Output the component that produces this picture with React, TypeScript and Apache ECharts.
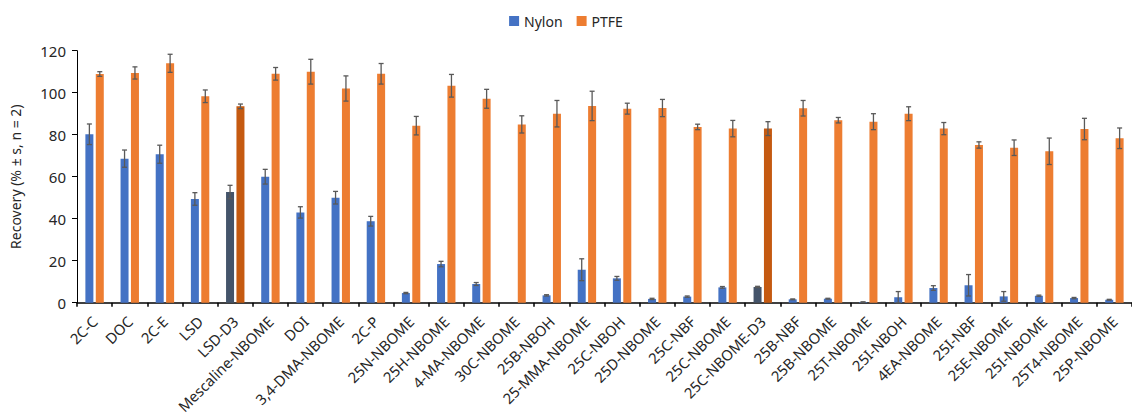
import React, { useEffect, useRef } from "react";
import * as echarts from "echarts";

const categories = [
  "2C-C", "DOC", "2C-E", "LSD", "LSD-D3", "Mescaline-NBOME", "DOI", "3,4-DMA-NBOME", "2C-P",
  "25N-NBOME", "25H-NBOME", "4-MA-NBOME", "30C-NBOME", "25B-NBOH", "25-MMA-NBOME", "25C-NBOH",
  "25D-NBOME", "25C-NBF", "25C-NBOME", "25C-NBOME-D3", "25B-NBF", "25B-NBOME", "25T-NBOME",
  "25I-NBOH", "4EA-NBOME", "25I-NBF", "25E-NBOME", "25I-NBOME", "25T4-NBOME", "25P-NBOME",
];

const nylonMean = [
  80.2, 68.6, 70.7, 49.4, 52.7, 60.0, 43.0, 50.0, 38.8,
  4.6, 18.4, 8.9, 0, 3.5, 15.7, 11.6,
  1.8, 2.9, 7.3, 7.5, 1.6, 1.9, 0.3,
  2.6, 7.0, 8.3, 3.0, 3.3, 2.2, 1.4,
];
const nylonSd = [
  4.9, 4.1, 4.3, 3.0, 3.2, 3.5, 2.7, 3.0, 2.3,
  0.3, 1.3, 0.7, 0, 0.3, 5.2, 0.9,
  0.3, 0.3, 0.4, 0.3, 0.2, 0.2, 0.1,
  2.7, 1.1, 5.1, 2.3, 0.3, 0.3, 0.2,
];
const ptfeMean = [
  108.9, 109.4, 114.0, 98.3, 93.5, 109.0, 110.0, 102.0, 109.0,
  84.3, 103.3, 97.1, 84.9, 90.0, 93.7, 92.4,
  92.7, 83.7, 82.9, 82.9, 92.6, 86.9, 86.2,
  90.0, 82.9, 75.1, 73.8, 72.1, 82.7, 78.3,
];
const ptfeSd = [
  1.1, 2.9, 4.3, 3.0, 1.1, 3.0, 5.9, 6.0, 4.9,
  4.4, 5.4, 4.5, 4.1, 6.3, 7.0, 2.6,
  4.1, 1.3, 3.9, 3.3, 3.7, 1.3, 3.8,
  3.3, 2.9, 1.5, 3.7, 6.3, 5.1, 4.9,
];
const deuterated = ["LSD-D3", "25C-NBOME-D3"];

const NYLON = "#4472C4";
const PTFE = "#ED7D31";
const NYLON_D = "#44546A";
const PTFE_D = "#C55A11";
const BAR_W = 8;
const BAR_GAP = 2.4;
const FONT = "Noto Sans";

export default function App() {
  const ref = useRef<HTMLDivElement>(null);
  useEffect(() => {
    if (!ref.current) return;
    const chart = echarts.init(ref.current, null, { renderer: "svg" });

    const mkBar = (means: number[], dark: string) =>
      means.map((v, i) =>
        deuterated.includes(categories[i])
          ? { value: v, itemStyle: { color: dark } }
          : v
      );

    const errData = (means: number[], sds: number[]) =>
      means.map((m, i) => [i, m - sds[i], m + sds[i]]);

    const errSeries = (name: string, means: number[], sds: number[], dir: number) => ({
      type: "custom",
      name: name + "-err",
      data: errData(means, sds),
      z: 10,
      silent: true,
      renderItem: (params: any, api: any) => {
        const idx = api.value(0);
        if (api.value(2) - api.value(1) <= 0) return null;
        const lo = api.coord([idx, api.value(1)]);
        const hi = api.coord([idx, api.value(2)]);
        const x = lo[0] + dir * (BAR_W + BAR_GAP) / 2;
        const cap = 2.5;
        const style = { stroke: "#595959", lineWidth: 1.3, fill: "none" };
        return {
          type: "group",
          children: [
            { type: "line", shape: { x1: x, y1: lo[1], x2: x, y2: hi[1] }, style },
            { type: "line", shape: { x1: x - cap, y1: lo[1], x2: x + cap, y2: lo[1] }, style },
            { type: "line", shape: { x1: x - cap, y1: hi[1], x2: x + cap, y2: hi[1] }, style },
          ],
        };
      },
    });

    chart.setOption({
      animation: false,
      textStyle: { fontFamily: FONT },
      legend: {
        data: ["Nylon", "PTFE"],
        top: 9,
        left: "center",
        icon: "rect",
        itemWidth: 10,
        itemHeight: 10,
        itemGap: 14,
        textStyle: { fontSize: 14, color: "#262626", fontFamily: FONT },
      },
      grid: { left: 72, right: -13, top: 50.7, bottom: 115.3, containLabel: false },
      xAxis: {
        type: "category",
        data: categories,
        axisLine: { lineStyle: { color: "#000", width: 1.5 } },
        axisTick: { show: true, length: 4, lineStyle: { color: "#000", width: 1.5 } },
        axisLabel: {
          interval: 0,
          rotate: 45,
          fontSize: 14.7,
          color: "#262626",
          margin: 16,
          fontFamily: FONT,
        },
      },
      yAxis: {
        type: "value",
        min: 0,
        max: 120,
        interval: 20,
        name: "Recovery (% ± s, n = 2)",
        nameLocation: "middle",
        nameRotate: 90,
        nameGap: 55,
        nameTextStyle: { fontSize: 14, color: "#262626", fontFamily: FONT },
        axisLine: { show: true, lineStyle: { color: "#000", width: 1 } },
        axisTick: { show: true, length: 5, lineStyle: { color: "#000" } },
        splitLine: { show: false },
        axisLabel: { fontSize: 15, color: "#262626", margin: 11, fontFamily: FONT },
      },
      series: [
        {
          type: "bar",
          name: "Nylon",
          data: mkBar(nylonMean, NYLON_D),
          itemStyle: { color: NYLON },
          barWidth: BAR_W,
          barGap: (BAR_GAP / BAR_W) * 100 + "%",
        },
        {
          type: "bar",
          name: "PTFE",
          data: mkBar(ptfeMean, PTFE_D),
          itemStyle: { color: PTFE },
          barWidth: BAR_W,
          barGap: (BAR_GAP / BAR_W) * 100 + "%",
        },
        errSeries("Nylon", nylonMean, nylonSd, -1),
        errSeries("PTFE", ptfeMean, ptfeSd, 1),
      ],
    });
    return () => chart.dispose();
  }, []);

  return (
    <div
      ref={ref}
      style={{ position: "absolute", left: 0, top: 0, width: 1132, height: 418, background: "#fff" }}
    />
  );
}
